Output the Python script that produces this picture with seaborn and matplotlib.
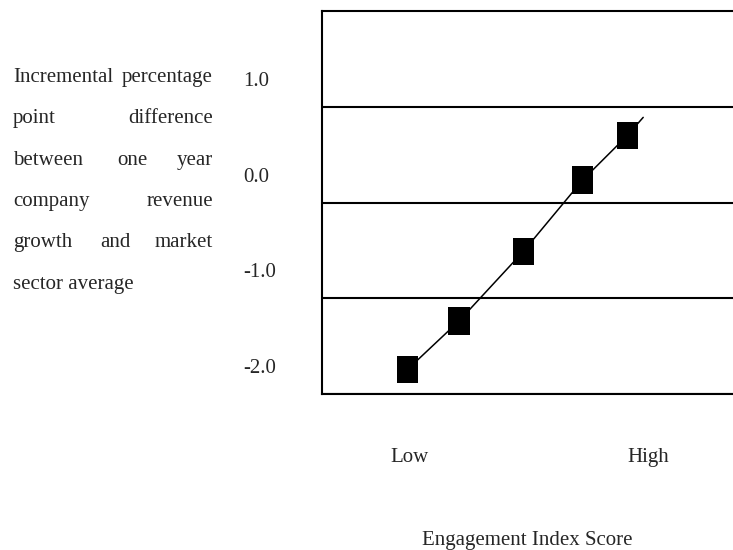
import numpy as np
import pandas as pd
import matplotlib
matplotlib.use("Agg")
import matplotlib.pyplot as plt
import matplotlib.transforms as mtransforms
import seaborn as sns

# engagement score (0 = Low, 1 = High) vs revenue growth difference
score = [-0.01, 0.206, 0.476, 0.726, 0.913]
diff = [-1.74, -1.235, -0.51, 0.237, 0.70]

# connecting line, runs a bit past the last point
line_score = [-0.01, 0.206, 0.476, 0.726, 0.913, 0.98]
line_diff = [-1.74, -1.235, -0.51, 0.237, 0.70, 0.89]

y_ticks = [-2, -1, 0, 1]
y_labels = ["-2.0", "-1.0", "0.0", "1.0"]
x_ticks = [0, 1]
x_labels = ["Low", "High"]

ylabel_lines = [
    ["Incremental", "percentage"],
    ["point", "difference"],
    ["between", "one", "year"],
    ["company", "revenue"],
    ["growth", "and", "market"],
    ["sector average"],
]
x_title = "Engagement Index Score"

sns.set_style("white")
plt.rcParams["font.family"] = ["Liberation Serif", "DejaVu Serif"]
FS = 15

fig = plt.figure(figsize=(7.33, 5.5), dpi=100)
W, H = 733, 550
ax = fig.add_axes([322 / W, 1 - 394.3 / H, 0.5807, (394.3 - 11) / H])

pts = pd.DataFrame({"score": score, "diff": diff})
trend = pd.DataFrame({"score": line_score, "diff": line_diff})

sns.lineplot(data=trend, x="score", y="diff", sort=False, estimator=None,
             color="black", lw=1.1, ax=ax)
rect = [(-0.385, -0.5), (0.385, -0.5), (0.385, 0.5), (-0.385, 0.5), (-0.385, -0.5)]
sns.scatterplot(data=pts, x="score", y="diff", marker=rect, s=19.7 ** 2,
                color="black", edgecolor="none", linewidth=0, ax=ax, zorder=3)

ax.set_ylim(-2, 2)
ax.set_xlim(-(410 - 322) / 238, (747.7 - 410) / 238)
ax.set_yticks(y_ticks)
ax.set_yticklabels(y_labels, fontsize=FS, ha="left")
ax.set_xticks(x_ticks)
ax.set_xticklabels(x_labels, fontsize=FS)
ax.tick_params(axis="y", length=0, pad=57)
ax.tick_params(axis="x", length=0, pad=39)
shift = mtransforms.ScaledTranslation(0, 0.28, fig.dpi_scale_trans)
for lab in ax.get_yticklabels():
    lab.set_transform(lab.get_transform() + shift)

ax.yaxis.grid(True, color="black", lw=1.5)
ax.xaxis.grid(False)
for sp in ax.spines.values():
    sp.set_color("black")
    sp.set_linewidth(1.5)
ax.set_xlabel("")
ax.set_ylabel("")

# justified y-axis description on the left
y0, step = 77.3, 41.4
mid_x = {"one": 132, "and": 115}
for i, words in enumerate(ylabel_lines):
    yy = 1 - (y0 + i * step) / H
    if len(words) == 1:
        fig.text(13 / W, yy, words[0], ha="left", va="center", fontsize=FS)
        continue
    fig.text(13 / W, yy, words[0], ha="left", va="center", fontsize=FS)
    fig.text(213 / W, yy, words[-1], ha="right", va="center", fontsize=FS)
    if len(words) == 3:
        fig.text(mid_x[words[1]] / W, yy, words[1], ha="center", va="center", fontsize=FS)

fig.text(527 / W, 1 - 541 / H, x_title, ha="center", va="center", fontsize=FS)

fig.savefig("out.png", dpi=100)
